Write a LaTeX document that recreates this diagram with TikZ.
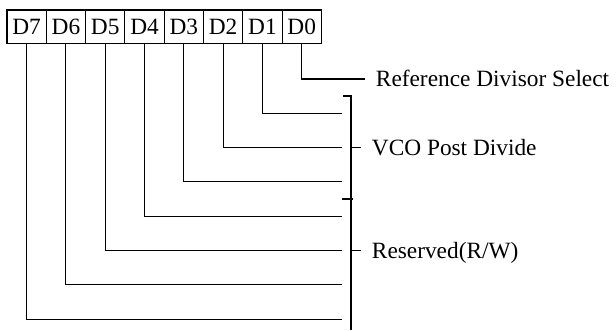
\documentclass[tikz,border=0pt]{standalone}
\usepackage{fontspec}
\setmainfont{Liberation Serif}
\usepackage{tikz}

\begin{document}
\begin{tikzpicture}[x=0.75pt,y=0.75pt,yscale=-1,xscale=1,
  bitbox/.style={draw,line width=0.8pt,minimum width=29.5pt,minimum height=25pt,inner sep=0pt,font=\fontsize{17.5}{21}\selectfont},
  wire/.style={line width=0.8pt},
  fieldlabel/.style={anchor=west,inner xsep=8pt,inner ysep=0pt,text height=11.6pt,text depth=0pt,font=\fontsize{17.5}{21}\selectfont}]

\useasboundingbox (0,0) rectangle (616,330);

% Register bits
\foreach \i in {0,...,7}
  \node [bitbox] (d\i) at ({26.65+39.3*(7-\i)},26.65) {D\i};

% Field labels
\node [fieldlabel] (ref) at (365,79) {Reference Divisor Select};
\node [fieldlabel] (vco) at (361,147.3) {VCO Post Divide};
\node [fieldlabel] (rsv) at (361,250.7) {Reserved(R/W)};

% Bit lines into the bracket
\draw [wire] (d0.south) |- (ref.west);
\foreach \i in {1,...,7} {
  \coordinate (e\i) at (341.5,{79+34.3*\i});
  \draw [wire] (d\i.south) |- (e\i);
}

% Bracket
\coordinate (btop) at (351,96);
\coordinate (bbot) at (351,330);
\coordinate (bsep) at (351,199);
\draw [wire] (343,96) -- (btop) -- (bbot);
\draw [wire] (342,199) -- (bsep) -- ++(2,0);
\draw [wire] (btop |- vco.west) -- (vco.west);
\draw [wire] (btop |- rsv.west) -- (rsv.west);
\end{tikzpicture}
\end{document}
